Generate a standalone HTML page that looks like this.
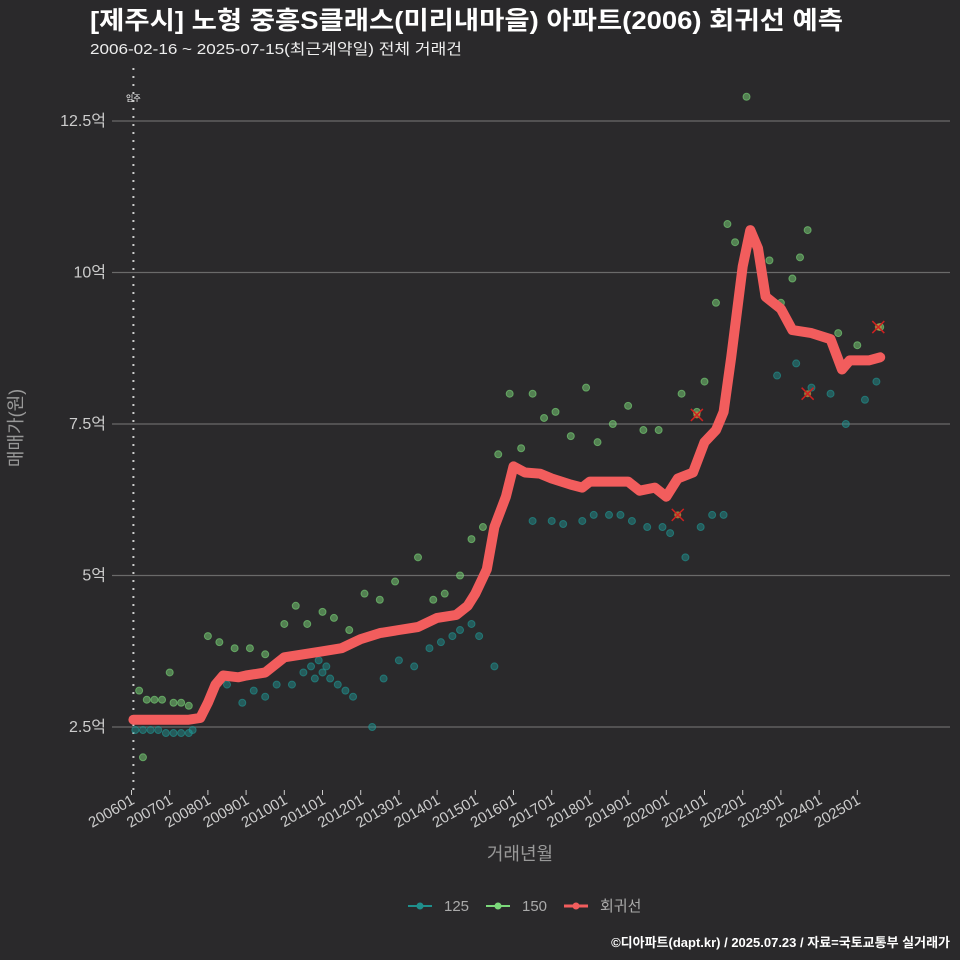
<!DOCTYPE html>
<html><head><meta charset="utf-8"><style>
html,body{margin:0;padding:0;background:#2a292b;overflow:hidden;width:960px;height:960px;}
svg{display:block;}
svg text{font-family:"Liberation Sans","Noto Sans CJK KR",sans-serif;}
</style></head><body>
<svg id="c" width="960" height="960" xmlns="http://www.w3.org/2000/svg">
<rect width="960" height="960" fill="#2a292b"/>
<text x="90" y="29" fill="#fff" font-size="25" font-weight="bold" textLength="753" lengthAdjust="spacingAndGlyphs">[제주시] 노형 중흥S클래스(미리내마을) 아파트(2006) 회귀선 예측</text>
<text x="90" y="54" fill="#eee" font-size="15" textLength="372" lengthAdjust="spacingAndGlyphs">2006-02-16 ~ 2025-07-15(최근계약일) 전체 거래건</text>
<g id="grid"></g><g id="pts"></g><g id="line"></g><g id="axes"></g>
<text x="22" y="428" fill="#999" font-size="18" transform="rotate(-90 22 428)" text-anchor="middle">매매가(원)</text>
<text x="520" y="860" fill="#999" font-size="18" text-anchor="middle">거래년월</text>
<g>
<g><line x1="408" y1="906" x2="432" y2="906" stroke="#1f8f8c" stroke-width="2"/><circle cx="420" cy="906" r="3.5" fill="#1f8f8c"/><text x="444" y="911" fill="#aaa" font-size="15">125</text></g>
<g><line x1="486" y1="906" x2="510" y2="906" stroke="#7bd87a" stroke-width="2"/><circle cx="498" cy="906" r="3.5" fill="#7bd87a"/><text x="522" y="911" fill="#aaa" font-size="15">150</text></g>
<g><line x1="564" y1="906" x2="588" y2="906" stroke="#f25d5d" stroke-width="3"/><circle cx="576" cy="906" r="3.5" fill="#f25d5d"/><text x="600" y="911" fill="#aaa" font-size="15">회귀선</text></g>
</g>
<text x="950" y="947" fill="#fff" font-size="13" font-weight="bold" text-anchor="end">©디아파트(dapt.kr) / 2025.07.23 / 자료=국토교통부 실거래가</text>
</svg>
<script>
const yTicks=[2.5,5,7.5,10,12.5];
const yTickLabels=["2.5억","5억","7.5억","10억","12.5억"];
const xTickYears=[2006,2007,2008,2009,2010,2011,2012,2013,2014,2015,2016,2017,2018,2019,2020,2021,2022,2023,2024,2025];
const regYears=[2006.05,2007.5,2007.8,2008.0,2008.2,2008.4,2008.8,2009.0,2009.5,2010.0,2010.5,2011.0,2011.5,2012.0,2012.5,2013.0,2013.5,2014.0,2014.5,2014.8,2015.0,2015.3,2015.5,2015.8,2016.0,2016.3,2016.7,2017.0,2017.5,2017.8,2018.0,2018.5,2019.0,2019.3,2019.7,2020.0,2020.3,2020.7,2021.0,2021.3,2021.5,2021.7,2022.0,2022.2,2022.4,2022.6,2023.0,2023.3,2023.8,2024.3,2024.6,2024.8,2025.3,2025.6];
const regValues=[2.62,2.62,2.65,2.9,3.2,3.35,3.32,3.35,3.4,3.65,3.7,3.75,3.8,3.95,4.05,4.1,4.15,4.3,4.35,4.5,4.7,5.1,5.8,6.3,6.8,6.7,6.68,6.6,6.5,6.45,6.55,6.55,6.55,6.4,6.45,6.3,6.6,6.7,7.2,7.4,7.7,8.6,10.1,10.7,10.4,9.6,9.4,9.05,9.0,8.9,8.4,8.55,8.55,8.6];
const s125Years=[2006.1,2006.3,2006.5,2006.7,2006.9,2007.1,2007.3,2007.5,2007.6,2008.5,2008.9,2009.2,2009.5,2009.8,2010.2,2010.5,2010.7,2010.8,2010.9,2011.0,2011.1,2011.2,2011.4,2011.6,2011.8,2012.3,2012.6,2013.0,2013.4,2013.8,2014.1,2014.4,2014.6,2014.9,2015.1,2015.5,2016.5,2017.0,2017.3,2017.8,2018.1,2018.5,2018.8,2019.1,2019.5,2019.9,2020.1,2020.5,2020.9,2021.2,2021.5,2022.9,2023.4,2023.8,2024.3,2024.7,2025.2,2025.5];
const s125Values=[2.45,2.45,2.45,2.45,2.4,2.4,2.4,2.4,2.45,3.2,2.9,3.1,3.0,3.2,3.2,3.4,3.5,3.3,3.6,3.4,3.5,3.3,3.2,3.1,3.0,2.5,3.3,3.6,3.5,3.8,3.9,4.0,4.1,4.2,4.0,3.5,5.9,5.9,5.85,5.9,6.0,6.0,6.0,5.9,5.8,5.8,5.7,5.3,5.8,6.0,6.0,8.3,8.5,8.1,8.0,7.5,7.9,8.2];
const s150Years=[2006.2,2006.3,2006.4,2006.6,2006.8,2007.0,2007.1,2007.3,2007.5,2008.0,2008.3,2008.7,2009.1,2009.5,2010.0,2010.3,2010.6,2011.0,2011.3,2011.7,2012.1,2012.5,2012.9,2013.5,2013.9,2014.2,2014.6,2014.9,2015.2,2015.6,2015.9,2016.2,2016.5,2016.8,2017.1,2017.5,2017.9,2018.2,2018.6,2019.0,2019.4,2019.8,2020.4,2020.8,2021.0,2021.3,2021.6,2021.8,2022.1,2022.7,2023.0,2023.3,2023.5,2023.7,2024.5,2025.0,2025.6];
const s150Values=[3.1,2.0,2.95,2.95,2.95,3.4,2.9,2.9,2.85,4.0,3.9,3.8,3.8,3.7,4.2,4.5,4.2,4.4,4.3,4.1,4.7,4.6,4.9,5.3,4.6,4.7,5.0,5.6,5.8,7.0,8.0,7.1,8.0,7.6,7.7,7.3,8.1,7.2,7.5,7.8,7.4,7.4,8.0,7.7,8.2,9.5,10.8,10.5,12.9,10.2,9.5,9.9,10.25,10.7,9.0,8.8,9.1];
const xMarkYears=[2020.3,2020.8,2023.7,2025.55];
const xMarkValues=[6.0,7.65,8.0,9.1];
const NS="http://www.w3.org/2000/svg";
const X=y=>131.5+(y-2006)*38.2;
const Y=v=>727-(v-2.5)*60.6;
function mk(tag,attrs,parent){const e=document.createElementNS(NS,tag);for(const k in attrs)e.setAttribute(k,attrs[k]);parent.appendChild(e);return e;}
const grid=document.getElementById('grid'),axes=document.getElementById('axes'),pts=document.getElementById('pts'),line=document.getElementById('line');
yTicks.forEach((v,i)=>{
 const l=mk('line',{x1:112,x2:950,y1:Y(v),y2:Y(v),stroke:'#6a6a6a','stroke-width':1.2},grid);
 
 
 const t=mk('text',{x:106,y:Y(v)+5,fill:'#ccc','font-size':16,'text-anchor':'end'},axes);
 t.textContent=yTickLabels[i];
 
 
});
const vl=mk('line',{x1:X(2006.05),x2:X(2006.05),y1:68,y2:790,stroke:'#ccc','stroke-width':2,'stroke-dasharray':'2 6'},grid);


const mt=mk('text',{x:X(2006.05),y:101,fill:'#fff','font-size':8,'text-anchor':'middle'},grid);
mt.textContent='입주';


xTickYears.forEach(y=>{
 const x=X(y);
 mk('line',{x1:x,x2:x,y1:790,y2:795,stroke:'#ccc'},axes);
 const t=mk('text',{x:x+4,y:803,fill:'#ccc','font-size':15,'text-anchor':'end',transform:`rotate(-30 ${x+4} 803)`},axes);
 t.textContent=y+'01';
 
 
});
s125Years.forEach((y,i)=>{const c=mk('circle',{cx:X(y),cy:Y(s125Values[i]),r:3.5,fill:'#1f9a96','fill-opacity':0.45,stroke:'#1f9a96','stroke-opacity':0.6},pts);
 
 });
s150Years.forEach((y,i)=>{const c=mk('circle',{cx:X(y),cy:Y(s150Values[i]),r:3.5,fill:'#7bd87a','fill-opacity':0.5,stroke:'#7bd87a','stroke-opacity':0.6},pts);
 
 });
let d=regYears.map((y,i)=>(i?'L':'M')+X(y).toFixed(1)+' '+Y(regValues[i]).toFixed(1)).join(' ');
const p=mk('path',{d:d,fill:'none',stroke:'#f25d5d','stroke-width':10,'stroke-linejoin':'round','stroke-linecap':'round'},line);


xMarkYears.forEach((y,i)=>{const x=X(y),yy=Y(xMarkValues[i]);
 const g=mk('g',{},line);
 
 
 mk('circle',{cx:x,cy:yy,r:3.5,fill:'#c89a40','fill-opacity':0.7},g);
 mk('path',{d:`M${x-6} ${yy-6}L${x+6} ${yy+6}M${x+6} ${yy-6}L${x-6} ${yy+6}`,stroke:'#d02020','stroke-width':1.5},g);});
</script>
</body></html>
